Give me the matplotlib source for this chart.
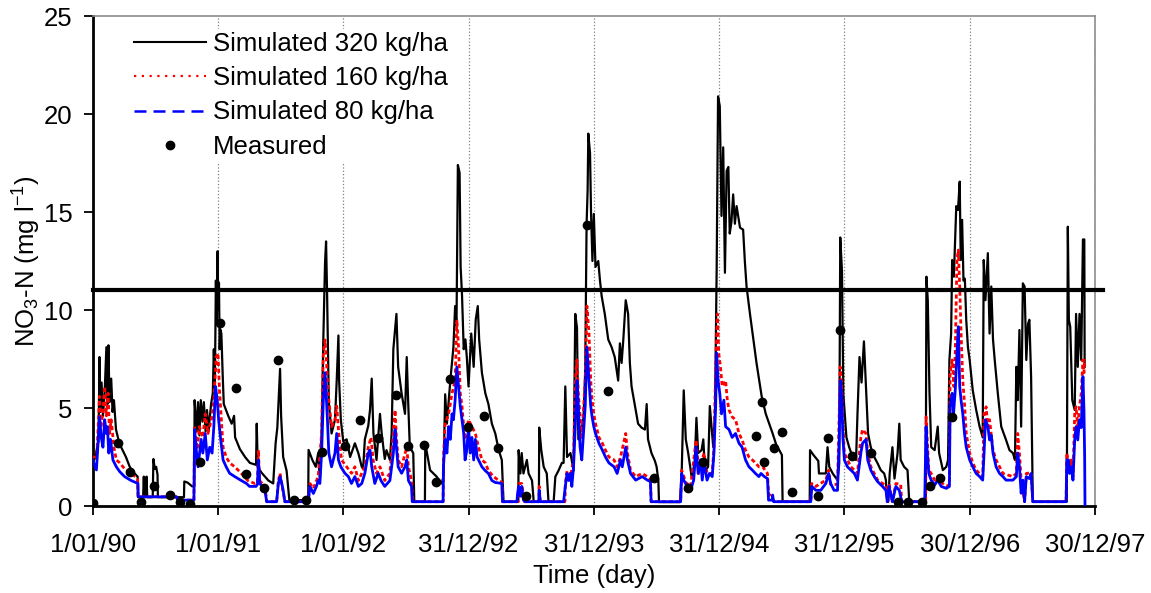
import numpy as np
import matplotlib
matplotlib.use("Agg")
import matplotlib.pyplot as plt
from matplotlib.lines import Line2D

plt.rcParams['font.family'] = ['Liberation Sans', 'DejaVu Sans']
plt.rcParams['mathtext.fontset'] = 'custom'
plt.rcParams['mathtext.rm'] = 'Liberation Sans'
plt.rcParams['mathtext.it'] = 'Liberation Sans:italic'

# ---------- data (day since 1/01/90, NO3-N mg/l) ----------
sim320 = [
    (0, 2.6), (6, 2.4), (12, 2.9), (17, 3.3), (20, 7.6), (22, 4.8), (26, 6.3), (30, 4.6), (35, 5.8),
    (40, 8.1), (43, 5.2), (46, 8.2), (49, 5.3), (54, 6.5), (58, 4.8), (62, 5.4), (68, 3.9), (75, 3.4),
    (83, 3.0), (97, 2.5), (108, 2.0), (120, 1.7), (131, 1.5), (132, 0.45), (147, 0.45), (149, 1.5),
    (151, 0.45), (155, 0.45), (157, 1.5), (159, 0.45), (175, 0.45), (177, 2.4), (181, 1.9), (185, 2.0),
    (189, 1.6), (190, 0.45), (266, 0.45), (267, 1.25), (276, 1.2), (290, 1.0), (296, 1.0), (297, 5.4),
    (300, 4.6), (303, 3.8), (307, 5.3), (311, 3.6), (315, 5.4), (320, 4.3), (324, 5.3), (329, 3.8),
    (333, 4.9), (338, 3.9), (345, 5.2), (350, 5.75), (353, 8.0), (356, 6.0), (359, 11.5), (361, 9.5),
    (364, 13.0), (366, 10.0), (368, 11.4), (370, 8.0), (372, 9.0), (375, 8.8), (379, 6.6), (382, 5.2),
    (395, 4.6), (405, 4.2), (412, 4.6), (415, 3.5), (429, 2.9), (444, 2.5), (458, 2.2), (476, 2.1),
    (478, 4.2), (481, 2.0), (492, 1.7), (512, 1.3), (526, 1.15), (533, 3.2), (538, 4.0), (541, 5.1),
    (546, 7.0), (549, 4.6), (555, 2.5), (565, 1.8), (573, 0.3), (628, 0.3), (629, 2.86), (640, 2.35),
    (650, 2.0), (657, 2.7), (662, 1.3), (667, 3.7), (672, 8.5), (677, 12.4), (680, 13.5), (683, 10.8),
    (688, 5.3), (696, 3.7), (706, 4.4), (711, 6.4), (716, 8.7), (718, 6.4), (723, 4.4), (730, 3.3),
    (740, 3.4), (750, 2.5), (764, 3.2), (774, 2.7), (784, 2.0), (788, 1.9), (793, 3.4), (803, 4.1),
    (808, 4.9), (813, 6.5), (818, 3.7), (827, 2.35), (837, 4.7), (842, 3.7), (851, 2.4), (856, 2.85),
    (866, 2.35), (871, 3.7), (876, 8.0), (881, 9.0), (885, 9.8), (890, 7.1), (900, 5.75), (910, 4.7),
    (915, 7.6), (919, 5.4), (924, 3.0), (934, 2.7), (937, 0.22), (968, 0.22), (969, 3.2), (983, 1.83),
    (1002, 1.5), (1017, 1.15), (1022, 1.5), (1027, 5.7), (1032, 4.2), (1042, 6.4), (1051, 8.1),
    (1056, 10.2), (1060, 9.2), (1064, 17.4), (1069, 17.0), (1072, 12.2), (1076, 10.8), (1081, 8.0),
    (1086, 8.5), (1090, 7.6), (1095, 6.1), (1103, 8.8), (1110, 7.1), (1116, 9.5), (1122, 10.2),
    (1126, 8.5), (1134, 6.8), (1144, 5.75), (1153, 5.2), (1163, 4.2), (1173, 3.7), (1183, 2.85),
    (1192, 2.35), (1197, 0.22), (1240, 0.22), (1241, 2.85), (1246, 1.66), (1250, 2.7), (1255, 1.66),
    (1265, 2.35), (1270, 1.66), (1280, 1.3), (1285, 0.22), (1300, 0.22), (1301, 4.0), (1307, 2.85),
    (1314, 2.0), (1323, 1.66), (1328, 0.22), (1343, 0.22), (1348, 1.5), (1357, 1.8), (1367, 2.2),
    (1372, 2.2), (1377, 6.1), (1382, 2.5), (1392, 2.7), (1401, 1.8), (1406, 9.8), (1411, 9.1),
    (1415, 3.4), (1425, 4.0), (1430, 4.5), (1435, 6.9), (1439, 14.4), (1442, 16.1), (1444, 19.0),
    (1449, 18.0), (1452, 14.9), (1456, 12.5), (1460, 14.9), (1465, 12.2), (1473, 12.5), (1478, 11.5),
    (1483, 10.7), (1492, 9.8), (1502, 8.5), (1512, 8.1), (1521, 7.6), (1531, 6.4), (1536, 8.3),
    (1541, 7.3), (1546, 8.5), (1553, 10.5), (1560, 9.8), (1565, 7.3), (1570, 6.1), (1580, 5.1),
    (1589, 4.2), (1599, 4.0), (1609, 3.9), (1614, 5.2), (1618, 3.4), (1628, 2.7), (1638, 2.3),
    (1643, 2.0), (1648, 1.3), (1650, 0.2), (1711, 0.2), (1716, 1.66), (1722, 5.9), (1728, 3.4),
    (1735, 2.7), (1745, 1.5), (1754, 2.2), (1759, 4.5), (1764, 2.7), (1774, 2.85), (1779, 3.4),
    (1784, 1.8), (1793, 2.0), (1798, 5.1), (1808, 3.0), (1813, 4.7), (1818, 12.2), (1822, 20.9),
    (1827, 20.4), (1832, 14.8), (1837, 18.3), (1842, 11.9), (1847, 17.1), (1852, 17.3), (1856, 13.9),
    (1861, 14.5), (1866, 15.9), (1871, 14.4), (1876, 15.3), (1886, 14.2), (1895, 14.1), (1900, 12.5),
    (1905, 11.2), (1915, 9.8), (1924, 8.6), (1934, 7.3), (1949, 5.6), (1961, 4.7), (1971, 4.2),
    (1981, 3.7), (1992, 3.1), (2002, 2.8), (2008, 2.6), (2010, 0.22), (2089, 0.22), (2090, 2.85),
    (2100, 2.6), (2114, 2.3), (2116, 1.66), (2136, 1.66), (2141, 3.0), (2146, 2.0), (2156, 1.66),
    (2170, 1.32), (2175, 2.17), (2178, 13.7), (2183, 12.0), (2187, 5.7), (2191, 4.7), (2196, 3.5),
    (2204, 3.0), (2214, 2.5), (2224, 2.35), (2228, 4.6), (2234, 7.6), (2240, 6.3), (2247, 8.4),
    (2252, 6.4), (2259, 3.7), (2267, 3.0), (2277, 2.5), (2287, 2.17), (2296, 1.83), (2306, 1.66),
    (2311, 1.32), (2314, 0.22), (2318, 0.22), (2322, 1.66), (2330, 3.0), (2336, 1.4), (2345, 2.7),
    (2350, 4.2), (2354, 2.35), (2364, 2.0), (2374, 1.83), (2379, 0.22), (2427, 0.22), (2429, 11.7),
    (2433, 10.5), (2438, 5.75), (2443, 3.0), (2453, 2.85), (2462, 4.05), (2466, 2.7), (2477, 1.83),
    (2487, 2.0), (2492, 2.35), (2496, 7.45), (2501, 8.8), (2504, 12.55), (2509, 11.7), (2516, 15.3),
    (2521, 15.1), (2526, 16.55), (2529, 12.55), (2533, 14.6), (2537, 11.5), (2541, 11.6), (2545, 9.5),
    (2550, 8.1), (2555, 7.45), (2564, 5.9), (2574, 4.9), (2584, 4.05), (2593, 3.5), (2596, 12.55),
    (2601, 10.5), (2608, 12.9), (2613, 8.8), (2618, 11.2), (2623, 8.5), (2628, 7.45), (2637, 5.75),
    (2647, 4.05), (2661, 3.37), (2671, 2.85), (2681, 2.7), (2687, 2.35), (2691, 7.1), (2695, 5.4),
    (2700, 8.98), (2705, 4.05), (2710, 11.36), (2715, 11.2), (2720, 7.45), (2725, 9.3), (2729, 9.5),
    (2734, 6.6), (2739, 0.22), (2838, 0.22), (2841, 14.25), (2844, 9.5), (2848, 9.15), (2854, 5.4),
    (2861, 4.9), (2865, 9.8), (2870, 7.1), (2875, 9.8), (2880, 7.45), (2885, 13.6), (2889, 13.6),
    (2890, 7.1),
]

sim160 = [
    (0, 2.5), (12, 2.5), (15, 3.7), (20, 5.6), (24, 4.0), (30, 4.8), (35, 6.1), (40, 4.6), (45, 5.75),
    (49, 3.7), (54, 4.4), (62, 3.0), (69, 2.35), (79, 2.2), (93, 1.9), (112, 1.67), (131, 1.4),
    (132, 0.47), (244, 0.47), (248, 0.3), (295, 0.3), (297, 4.05), (305, 2.9), (311, 4.05), (321, 3.5),
    (328, 4.7), (336, 3.7), (346, 4.4), (353, 5.4), (360, 7.6), (365, 7.8), (370, 5.75), (375, 4.4),
    (380, 3.0), (389, 2.5), (399, 2.2), (414, 2.0), (433, 1.67), (452, 1.3), (472, 1.15), (480, 1.2),
    (483, 2.86), (486, 1.3), (502, 1.0), (507, 0.22), (536, 0.22), (541, 1.3), (546, 1.67), (551, 1.1),
    (560, 0.22), (628, 0.22), (633, 1.15), (643, 0.9), (657, 1.5), (667, 3.7), (672, 7.8), (677, 8.47),
    (681, 7.45), (686, 5.75), (696, 4.05), (706, 4.4), (711, 5.1), (717, 3.7), (725, 2.35), (740, 2.0),
    (754, 1.67), (764, 2.0), (774, 1.3), (793, 2.0), (803, 3.0), (811, 3.5), (817, 2.35), (827, 1.67),
    (837, 2.0), (851, 1.3), (866, 1.67), (876, 3.7), (881, 4.9), (885, 3.5), (890, 2.35), (900, 2.0),
    (915, 3.0), (920, 2.0), (929, 1.3), (933, 0.22), (1021, 0.22), (1022, 2.5), (1027, 4.2),
    (1037, 4.7), (1047, 5.75), (1056, 6.4), (1061, 9.5), (1066, 8.1), (1071, 5.75), (1076, 5.1),
    (1081, 4.05), (1085, 3.4), (1095, 4.4), (1105, 4.05), (1115, 3.7), (1124, 3.0), (1134, 2.35),
    (1144, 2.2), (1153, 1.8), (1168, 1.5), (1183, 1.3), (1193, 1.2), (1194, 0.22), (1240, 0.22),
    (1241, 1.15), (1250, 1.15), (1258, 0.22), (1300, 0.22), (1301, 1.0), (1304, 0.22), (1376, 0.22),
    (1377, 1.15), (1382, 1.8), (1392, 1.5), (1401, 2.35), (1406, 6.4), (1411, 7.45), (1415, 5.75),
    (1425, 3.4), (1435, 6.4), (1440, 10.2), (1446, 8.8), (1451, 6.4), (1455, 5.4), (1460, 4.7),
    (1465, 4.2), (1475, 3.5), (1485, 3.2), (1494, 2.85), (1504, 2.5), (1519, 2.35), (1528, 2.0),
    (1538, 2.5), (1553, 3.7), (1558, 2.7), (1567, 1.83), (1582, 1.5), (1601, 1.66), (1616, 1.5),
    (1625, 1.32), (1627, 0.22), (1713, 0.22), (1716, 1.83), (1728, 1.2), (1742, 1.0), (1758, 3.37),
    (1766, 1.66), (1776, 2.35), (1781, 2.7), (1790, 1.66), (1805, 1.66), (1810, 3.0), (1815, 7.1),
    (1820, 9.8), (1824, 7.8), (1829, 7.1), (1834, 6.1), (1844, 6.4), (1849, 5.4), (1854, 4.9),
    (1863, 4.55), (1873, 4.4), (1883, 3.7), (1892, 3.37), (1902, 2.85), (1912, 2.5), (1922, 2.35),
    (1931, 2.2), (1941, 2.0), (1952, 2.0), (1966, 1.66), (1969, 0.65), (1986, 0.22), (2092, 0.22),
    (2095, 1.15), (2107, 1.0), (2136, 1.32), (2144, 1.83), (2150, 1.1), (2170, 1.1), (2175, 4.7),
    (2178, 7.1), (2182, 6.1), (2186, 4.05), (2190, 2.7), (2199, 2.35), (2209, 2.0), (2219, 1.83),
    (2228, 1.66), (2238, 3.5), (2243, 3.9), (2253, 3.7), (2258, 2.7), (2267, 2.0), (2277, 1.66),
    (2287, 1.32), (2301, 1.15), (2311, 1.07), (2316, 0.22), (2320, 1.15), (2330, 0.22), (2340, 1.15),
    (2354, 1.1), (2357, 0.22), (2427, 0.22), (2428, 4.55), (2436, 1.83), (2443, 1.66), (2453, 1.32),
    (2462, 1.5), (2472, 1.2), (2487, 1.0), (2496, 1.1), (2498, 6.8), (2504, 7.45), (2509, 6.1),
    (2513, 7.8), (2518, 12.55), (2522, 13.06), (2526, 11.2), (2530, 8.8), (2535, 6.4), (2540, 5.2),
    (2545, 3.7), (2555, 2.7), (2564, 2.2), (2574, 1.83), (2584, 1.66), (2593, 1.5), (2597, 4.7),
    (2603, 5.06), (2608, 4.05), (2613, 4.4), (2623, 2.85), (2632, 2.35), (2642, 2.0), (2652, 1.66),
    (2681, 1.5), (2691, 1.66), (2695, 3.7), (2700, 2.7), (2705, 1.32), (2715, 0.22), (2720, 1.66),
    (2734, 1.7), (2739, 0.22), (2836, 0.22), (2838, 2.7), (2846, 1.8), (2851, 2.35), (2856, 1.5),
    (2861, 4.7), (2865, 5.06), (2870, 4.0), (2875, 5.06), (2880, 5.75), (2885, 7.45), (2888, 6.8),
    (2890, 7.5),
]

sim80 = [
    (0, 2.35), (11, 1.84), (15, 3.0), (20, 4.55), (25, 3.5), (30, 3.0), (35, 4.4), (40, 3.7), (43, 4.05),
    (47, 2.7), (52, 3.4), (59, 2.35), (69, 2.0), (79, 1.75), (93, 1.5), (112, 1.3), (132, 1.15),
    (133, 0.47), (244, 0.47), (248, 0.3), (295, 0.3), (297, 3.9), (302, 2.86), (307, 2.0), (316, 3.4),
    (321, 2.7), (328, 3.7), (334, 2.35), (341, 3.0), (348, 2.7), (353, 4.05), (358, 6.1), (363, 5.4),
    (367, 4.4), (373, 3.4), (380, 2.35), (389, 2.0), (399, 1.67), (414, 1.5), (433, 1.3), (448, 1.15),
    (457, 1.0), (476, 1.0), (480, 1.1), (483, 2.35), (487, 1.15), (502, 0.8), (507, 0.22), (536, 0.22),
    (541, 1.15), (546, 1.5), (551, 1.15), (555, 0.8), (560, 0.22), (628, 0.22), (633, 1.0), (643, 0.64),
    (652, 1.0), (657, 1.3), (662, 1.15), (667, 2.7), (672, 5.4), (677, 6.8), (680, 5.75), (684, 4.4),
    (688, 2.7), (696, 2.0), (706, 2.7), (711, 3.7), (716, 2.35), (723, 2.0), (735, 1.67), (745, 1.5),
    (754, 1.15), (764, 1.5), (774, 1.0), (784, 1.15), (793, 1.67), (803, 2.7), (808, 2.85), (813, 2.0),
    (822, 1.15), (832, 1.67), (840, 1.3), (851, 1.0), (866, 1.3), (876, 2.7), (881, 3.9), (885, 3.0),
    (890, 2.0), (900, 1.67), (910, 2.0), (915, 2.35), (920, 1.3), (929, 1.0), (931, 0.22), (1021, 0.22),
    (1022, 2.0), (1027, 3.4), (1032, 2.7), (1037, 4.05), (1042, 3.4), (1047, 4.7), (1051, 4.4),
    (1056, 5.4), (1061, 7.1), (1066, 6.1), (1071, 5.1), (1076, 4.4), (1081, 3.7), (1085, 2.35),
    (1090, 2.85), (1095, 4.05), (1100, 2.7), (1105, 3.5), (1110, 2.35), (1115, 3.4), (1120, 2.5),
    (1134, 2.0), (1144, 1.8), (1153, 1.66), (1163, 1.3), (1173, 1.2), (1192, 1.15), (1194, 0.22),
    (1236, 0.22), (1238, 0.65), (1241, 1.0), (1246, 0.5), (1250, 1.0), (1255, 0.3), (1260, 0.22),
    (1300, 0.22), (1301, 0.8), (1304, 0.22), (1372, 0.22), (1377, 1.0), (1382, 1.66), (1387, 1.3),
    (1392, 1.66), (1396, 1.0), (1401, 2.0), (1406, 4.05), (1411, 6.4), (1415, 5.1), (1420, 3.0),
    (1425, 2.35), (1430, 3.7), (1435, 5.1), (1440, 8.1), (1446, 6.4), (1451, 5.1), (1455, 4.55),
    (1460, 4.05), (1465, 3.7), (1475, 3.2), (1485, 2.85), (1494, 2.5), (1504, 2.2), (1519, 2.0),
    (1528, 1.66), (1538, 2.35), (1543, 2.0), (1553, 3.0), (1558, 2.35), (1567, 1.66), (1582, 1.32),
    (1601, 1.5), (1616, 1.32), (1625, 1.25), (1627, 0.22), (1713, 0.22), (1716, 1.66), (1722, 1.32),
    (1732, 1.0), (1742, 0.8), (1751, 1.32), (1758, 3.0), (1764, 1.66), (1771, 2.35), (1776, 1.32),
    (1781, 2.2), (1790, 1.32), (1797, 1.66), (1805, 1.5), (1810, 2.7), (1815, 5.1), (1818, 7.8),
    (1822, 6.4), (1827, 5.75), (1832, 4.7), (1839, 5.4), (1844, 4.05), (1854, 3.9), (1863, 3.5),
    (1873, 3.7), (1883, 3.2), (1892, 3.0), (1902, 2.35), (1912, 2.0), (1922, 1.83), (1931, 1.66),
    (1941, 1.5), (1947, 1.66), (1957, 1.5), (1966, 1.4), (1969, 0.3), (1980, 0.3), (1981, 0.56),
    (1984, 0.22), (2092, 0.22), (2095, 1.0), (2107, 0.8), (2121, 0.8), (2136, 1.15), (2144, 1.66),
    (2150, 1.15), (2160, 0.8), (2170, 0.8), (2175, 3.4), (2178, 6.4), (2182, 5.6), (2186, 3.4),
    (2190, 2.35), (2199, 2.0), (2209, 1.83), (2219, 1.66), (2228, 1.32), (2238, 2.7), (2243, 3.2),
    (2253, 3.4), (2258, 2.35), (2267, 1.83), (2277, 1.5), (2287, 1.24), (2301, 1.0), (2311, 0.8),
    (2316, 0.22), (2320, 1.0), (2330, 0.22), (2340, 1.0), (2350, 0.8), (2357, 0.22), (2424, 0.22),
    (2428, 4.05), (2431, 2.85), (2436, 1.66), (2443, 1.32), (2453, 1.07), (2462, 1.32), (2472, 1.0),
    (2487, 0.9), (2496, 1.0), (2498, 5.06), (2504, 5.75), (2508, 4.7), (2513, 5.9), (2518, 7.8),
    (2522, 9.15), (2526, 6.1), (2530, 5.4), (2535, 4.7), (2540, 3.7), (2545, 3.0), (2555, 2.35),
    (2564, 2.0), (2574, 1.66), (2584, 1.5), (2593, 1.32), (2597, 2.7), (2601, 4.4), (2608, 4.05),
    (2613, 3.37), (2618, 3.6), (2623, 2.7), (2632, 2.0), (2642, 1.66), (2652, 1.5), (2661, 1.32),
    (2681, 1.32), (2691, 1.5), (2695, 2.7), (2700, 2.0), (2705, 0.65), (2710, 1.32), (2715, 0.22),
    (2720, 1.5), (2729, 1.4), (2734, 1.66), (2739, 0.22), (2836, 0.22), (2838, 2.35), (2843, 2.35),
    (2846, 1.66), (2851, 2.0), (2856, 1.32), (2861, 3.37), (2865, 4.05), (2870, 3.37), (2875, 4.4),
    (2880, 4.0), (2885, 6.6), (2888, 4.9), (2890, 2.5), (2891, 0.0),
]

measured = [
    (2, 0.13), (74, 3.19), (109, 1.75), (142, 0.22), (180, 1.02), (225, 0.54), (254, 0.19), (283, 0.10),
    (312, 2.24), (372, 9.36), (417, 6.00), (447, 1.63), (499, 0.93), (540, 7.45), (587, 0.31),
    (621, 0.31), (668, 2.78), (734, 3.08), (780, 4.39), (831, 3.47), (885, 5.64), (919, 3.06),
    (965, 3.10), (1000, 1.24), (1040, 6.46), (1093, 4.01), (1140, 4.61), (1182, 2.97), (1263, 0.52),
    (1440, 14.34), (1502, 5.88), (1635, 1.44), (1735, 0.94), (1777, 2.26), (1932, 3.57), (1950, 5.32),
    (1956, 2.26), (1985, 2.97), (2008, 3.79), (2038, 0.71), (2112, 0.52), (2143, 3.48), (2178, 8.99),
    (2213, 2.56), (2267, 2.69), (2347, 0.22), (2376, 0.22), (2416, 0.22), (2439, 1.02), (2468, 1.41),
    (2504, 4.52),
]

LIMIT = 11
x_tick_labels = ['1/01/90', '1/01/91', '1/01/92', '31/12/92', '31/12/93',
                 '31/12/94', '31/12/95', '30/12/96', '30/12/97']
labels = ['Simulated 320 kg/ha', 'Simulated 160 kg/ha', 'Simulated 80 kg/ha', 'Measured']
# -----------------------------------------------------------------------------

FS = 18.5

fig = plt.figure(figsize=(11.51, 5.93), dpi=100)
ax = fig.add_axes([0.0805, 0.1467, 0.8708, 0.8263])

d, v = zip(*sim320)
ax.plot(d, v, color='black', lw=1.6, zorder=3)
d, v = zip(*sim160)
ax.plot(d, v, color='red', lw=2.0, dashes=(1.5, 1.0), zorder=4)
d, v = zip(*sim80)
ax.plot(d, v, color='blue', lw=2.0, zorder=5)
d, v = zip(*measured)
ax.plot(d, v, 'o', color='black', ms=6, zorder=6)

ax.axhline(LIMIT, xmin=0, xmax=1.008, color='black', lw=3, clip_on=False, zorder=7)

ax.set_xlim(0, 2920)
ax.set_ylim(0, 25)
ax.set_xticks(np.arange(len(x_tick_labels)) * 365)
ax.set_xticklabels(x_tick_labels)
ax.set_yticks([0, 5, 10, 15, 20, 25])
ax.tick_params(axis='both', labelsize=FS, direction='out', length=6.5, width=1.3)
ax.tick_params(axis='y', pad=8)
ax.tick_params(axis='x', pad=13)
ax.grid(axis='x', linestyle=':', color='#808080', lw=0.9)
ax.set_axisbelow(True)

for s in ['left', 'bottom']:
    ax.spines[s].set_linewidth(2)
    ax.spines[s].set_color('black')
for s in ['top', 'right']:
    ax.spines[s].set_linewidth(1.2)
    ax.spines[s].set_color('#8c8c8c')

ax.set_xlabel('Time (day)', fontsize=FS, labelpad=5)
ax.set_ylabel(r'NO$_3$-N (mg l$^{-1}$)', fontsize=FS)
ax.yaxis.set_label_coords(-0.05, 0.5)

handles = [
    Line2D([], [], color='black', lw=1.5),
    Line2D([], [], color='red', lw=1.6, dashes=(1, 2.5)),
    Line2D([], [], color='blue', lw=1.8, dashes=(4.8, 2.8)),
    Line2D([], [], color='black', marker='o', ls='none', ms=6),
]
leg = ax.legend(handles, labels, loc='upper left', bbox_to_anchor=(0.025, 1.0), fontsize=FS,
                frameon=True, framealpha=1, edgecolor='none', fancybox=False,
                handlelength=2.8, handletextpad=0.3, labelspacing=0.4, borderpad=0.12)
leg.set_zorder(10)

fig.savefig('out.png', dpi=100)
